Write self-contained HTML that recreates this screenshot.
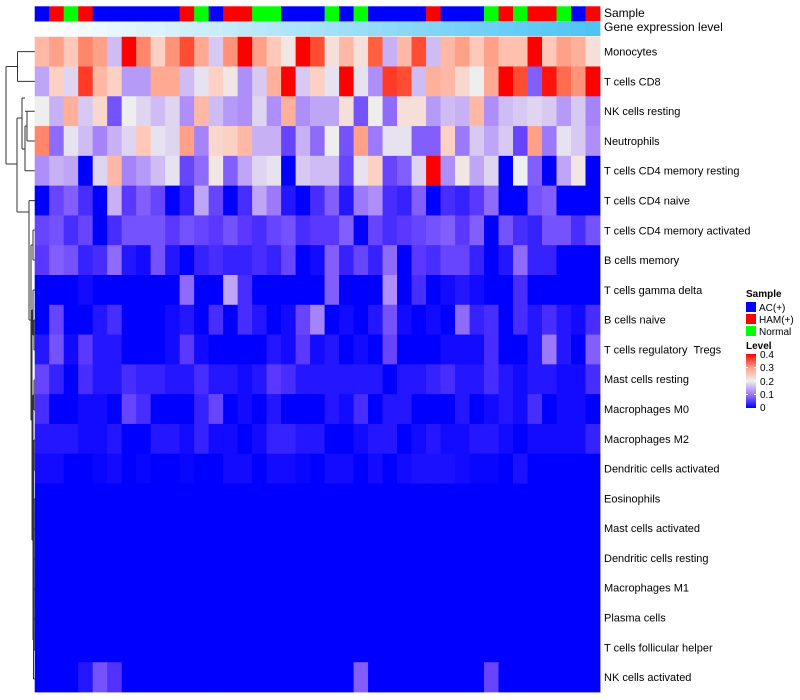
<!DOCTYPE html>
<html><head><meta charset="utf-8">
<style>
html,body{margin:0;padding:0;background:#fff;}
svg{display:block;font-family:"Liberation Sans",sans-serif;}
</style></head>
<body>
<svg id="chart" width="800" height="700" viewBox="0 0 800 700">
  <g id="dendro" stroke="#333" stroke-width="1" fill="none">
    <path d="M6,66.5 V164 M6,66.5 H17.5 M6,164 H17 M17.5,51.6 V81.4 M17.5,51.6 H35 M17.5,81.4 H35"/>
    <path d="M17,118 V212 M17,118 H22 M22,98 V149 M22,98 H25 M22,149 H25 M25,111.2 H35 M25,84 M25,126 V170.8 M25,170.8 H35 M25,126 H27 M27,111.2 V141 M27,111.2 H35 M27,141 H35"/>
    <path d="M17,212 H29 M29,200.6 V320 M29,200.6 H35 M29,320 H31"/>
    <path d="M31,245 V420 M31,245 H33 M33,230 V260 M33,230 H35 M33,260 H35 M31,420 H32"/>
    <path d="M32,310 V540 M32,310 H33 M33,290 V335 M33,290 H35 M33,335 H34 M34,320 V350 M34,320 H35 M34,350 H35 M32,540 H33"/>
    <path d="M33,395 V640 M33,395 H34 M34,380 V410 M34,380 H35 M34,410 H35 M33,640 H33.5"/>
    <path d="M33.5,455 V679 M33.5,455 H34 M34,440 V470 M34,440 H35 M34,470 H35 M33.5,679 H35 M34,499 V650 M34,499 H35 M34,529 H35 M34,559 H35 M34,589 H35 M34,619 H35 M34,650 H35"/>
  </g>
  <g id="sampleBar"></g>
  <g id="geneBar"></g>
  <g id="cells"></g>
  <g id="labels"></g>
  <text x="604" y="17" font-size="12">Sample</text>
  <text x="604" y="31" font-size="12">Gene expression level</text>
  <g font-size="10">
    <text x="746" y="297" font-weight="bold">Sample</text>
    <rect x="746" y="302" width="10" height="10" fill="#0000FF"/>
    <text x="759" y="311">AC(+)</text>
    <rect x="746" y="314" width="10" height="10" fill="#FF0000"/>
    <text x="759" y="323">HAM(+)</text>
    <rect x="746" y="326" width="10" height="10" fill="#00FF00"/>
    <text x="759" y="335">Normal</text>
    <text x="746" y="349" font-weight="bold">Level</text>
    <defs><linearGradient id="lg" x1="0" y1="1" x2="0" y2="0">
      <stop offset="0" stop-color="#0000FF"/><stop offset="0.25" stop-color="#9C78FA"/>
      <stop offset="0.5" stop-color="#EEEEEE"/><stop offset="0.75" stop-color="#FFA088"/>
      <stop offset="1" stop-color="#FF0000"/></linearGradient></defs>
    <rect x="746" y="354" width="10" height="54" fill="url(#lg)"/>
    <g stroke="#fff" stroke-width="1">
      <line x1="746" y1="367.5" x2="748" y2="367.5"/><line x1="754" y1="367.5" x2="756" y2="367.5"/>
      <line x1="746" y1="381" x2="748" y2="381"/><line x1="754" y1="381" x2="756" y2="381"/>
      <line x1="746" y1="394.5" x2="748" y2="394.5"/><line x1="754" y1="394.5" x2="756" y2="394.5"/>
    </g>
    <text x="760" y="358">0.4</text>
    <text x="760" y="371">0.3</text>
    <text x="760" y="385">0.2</text>
    <text x="760" y="398">0.1</text>
    <text x="760" y="411">0</text>
  </g>
</svg>
<script>
const rowNames = ["Monocytes","T cells CD8","NK cells resting","Neutrophils","T cells CD4 memory resting","T cells CD4 naive","T cells CD4 memory activated","B cells memory","T cells gamma delta","B cells naive","T cells regulatory  Tregs","Mast cells resting","Macrophages M0","Macrophages M2","Dendritic cells activated","Eosinophils","Mast cells activated","Dendritic cells resting","Macrophages M1","Plasma cells","T cells follicular helper","NK cells activated"];
const sampleGroups = ["AC","HAM","Normal","HAM","AC","AC","AC","AC","AC","AC","HAM","Normal","AC","HAM","HAM","Normal","Normal","AC","AC","AC","Normal","AC","Normal","AC","AC","AC","AC","HAM","AC","AC","AC","Normal","HAM","Normal","HAM","HAM","Normal","AC","HAM"];
const geneLevel = [1,2,3,4,5,6,7,8,9,10,11,12,13,14,15,16,17,18,19,20,21,22,23,24,25,26,27,28,29,30,31,32,33,34,35,36,37,38,39];
const monocytes = [.27,.30,.25,.32,.30,.16,.40,.32,.24,.31,.36,.29,.17,.31,.40,.30,.25,.21,.40,.36,.22,.27,.22,.35,.15,.27,.36,.16,.27,.30,.25,.30,.26,.26,.40,.25,.30,.28,.22];
const tCD8 = [.14,.24,.18,.37,.27,.24,.13,.13,.29,.29,.16,.19,.24,.21,.12,.17,.28,.40,.17,.24,.19,.40,.19,.12,.37,.36,.16,.28,.27,.23,.20,.29,.40,.36,.08,.39,.34,.31,.40];
const nkResting = [.20,.15,.28,.17,.23,.07,.20,.18,.16,.18,.12,.27,.16,.13,.12,.18,.12,.28,.12,.14,.14,.22,.07,.20,.09,.22,.22,.13,.16,.15,.27,.12,.16,.17,.18,.17,.13,.17,.11];
const neutrophils = [.32,.09,.19,.16,.11,.15,.18,.25,.19,.18,.30,.11,.23,.24,.27,.15,.15,.06,.15,.09,.20,.07,.30,.10,.19,.19,.08,.08,.24,.10,.17,.14,.17,.06,.30,.10,.19,.17,.12];
const cd4MemResting = [.12,.15,.14,0,.18,.27,.11,.13,.16,.19,.06,.09,.21,.08,.14,.18,.19,0,.17,.16,.16,.06,.19,.24,.06,.08,.18,.40,.12,.21,.14,.18,0,.20,.08,0,.14,.21,0];
const cd4Naive = [0,.06,.08,.04,0,.15,.05,.08,.06,0,.03,.14,.06,0,.04,.14,.10,.02,0,.04,.08,.02,.10,.12,.04,.03,.08,0,.04,.03,.05,.09,0,0,.07,.08,0,0,0];
const cd4MemActivated = [.06,.07,.04,.06,0,.04,.07,.07,.07,.05,.07,.06,.05,.07,.05,.04,.06,.07,.04,.05,.05,.08,0,.06,.04,.05,.06,.07,.08,.05,.08,0,.07,.04,.03,.07,.07,.04,.07];
const bMemory = [.05,.08,.07,.03,.04,.09,.02,.01,.07,.02,0,.03,.04,.03,.03,.04,.03,.06,0,.01,.08,.03,.06,.03,.09,0,.05,.04,.06,.06,.03,0,.02,.09,.03,.03,0,0,0];
const gammaDelta = [0,0,0,.01,0,0,0,0,0,0,.09,0,0,.14,.04,0,0,0,0,0,.08,0,0,0,.12,0,.04,0,.01,.02,.01,0,0,.04,0,0,0,0,0];
const bNaive = [0,.06,0,0,.02,.04,0,0,0,.01,.02,0,.04,0,.04,.02,0,.01,.06,.11,0,.01,0,.02,.07,.01,0,.01,0,.09,.03,.04,0,.04,.02,.04,.02,.01,.04];
const tregs = [.02,.07,.01,.05,.02,.02,0,0,0,.01,.05,.01,0,0,0,0,.02,.01,.05,.01,.02,0,.01,0,.06,0,0,0,.01,.01,.01,.04,0,0,.02,.10,.02,0,.08];
const mastResting = [.06,.03,0,.04,.02,.02,.04,.03,.03,.02,.02,.04,.02,.02,.01,.02,.05,.04,.02,.02,.02,.02,.02,.02,0,.02,.02,.03,.04,.02,.02,.04,.02,.01,.02,.02,.01,.01,.04];
const macM0 = [.04,0,0,.01,.01,0,.06,.04,0,0,0,.03,.06,0,.01,0,.02,0,0,0,.02,.01,.04,0,.02,.02,0,0,0,.02,0,.01,.02,.01,.04,0,.01,.01,0];
const macM2 = [.02,.02,.02,.01,.01,.02,0,0,.02,.02,.01,.03,.01,.01,0,.01,.03,.03,.02,.02,0,0,.01,.02,.02,0,.01,.02,.01,.01,.02,.02,.01,0,.01,.01,.01,.01,.03];
const dcActivated = [.01,.01,0,0,.005,.01,0,.005,0,0,.005,0,0,.01,.01,0,.01,.01,.005,0,.01,.01,0,.01,0,.01,.015,.015,.015,.01,.005,.005,0,.015,0,0,0,0,0];
const eosinophils = [0,0,0,0,0,0,0,0,0,0,0,0,0,0,0,0,0,0,0,0,0,0,0,0,0,0,0,0,0,0,0,0,0,0,0,0,0,0,0];
const mastActivated = [0,0,0,0,0,0,0,0,0,0,0,0,0,0,0,0,0,0,0,0,0,0,0,0,0,0,0,0,0,0,0,0,0,0,0,0,0,0,0];
const dcResting = [0,0,0,0,0,0,0,0,0,0,0,0,0,0,0,0,0,0,0,0,0,0,0,0,0,0,0,0,0,0,0,0,0,0,0,0,0,0,0];
const macM1 = [0,0,0,0,0,0,0,0,0,0,0,0,0,0,0,0,0,0,0,0,0,0,0,0,0,0,0,0,0,0,0,0,0,0,0,0,0,0,0];
const plasma = [0,0,0,0,0,0,0,0,0,0,0,0,0,0,0,0,0,0,0,0,0,0,0,0,0,0,0,0,0,0,0,0,0,0,0,0,0,0,0];
const tfh = [0,0,0,0,0,0,0,0,0,0,0,0,0,0,0,0,0,0,0,0,0,0,0,0,0,0,0,0,0,0,0,0,0,0,0,0,0,0,0];
const nkActivated = [0,0,0,.02,.07,.045,0,0,0,0,0,0,0,0,0,0,0,0,0,0,0,0,.08,0,0,0,0,0,0,0,0,.06,0,0,0,0,0,0,0];
const values = [monocytes,tCD8,nkResting,neutrophils,cd4MemResting,cd4Naive,cd4MemActivated,bMemory,gammaDelta,bNaive,tregs,mastResting,macM0,macM2,dcActivated,eosinophils,mastActivated,dcResting,macM1,plasma,tfh,nkActivated];

const NS = "http://www.w3.org/2000/svg";
const X0 = 34.7, X1 = 600, Y0 = 36.7, Y1 = 692;
const nCol = sampleGroups.length, nRow = rowNames.length;
const cw = (X1 - X0) / nCol, rh = (Y1 - Y0) / nRow;
function xPos(i){ return X0 + i * cw; }
function yPos(j){ return Y0 + j * rh; }
const stops = [[0,[0,0,255]],[0.05,[90,56,255]],[0.1,[156,120,250]],[0.15,[200,176,245]],[0.2,[238,238,238]],[0.25,[255,200,184]],[0.3,[255,160,136]],[0.35,[255,96,64]],[0.4,[255,0,0]]];
function colorOf(v){
  v = Math.max(0, Math.min(0.4, v));
  for (let k = 1; k < stops.length; k++){
    if (v <= stops[k][0]){
      const a = stops[k-1], b = stops[k], t = (v - a[0]) / (b[0] - a[0]);
      const c = a[1].map((q, i) => Math.round(q + (b[1][i] - q) * t));
      return `rgb(${c[0]},${c[1]},${c[2]})`;
    }
  }
  return "rgb(255,0,0)";
}
const groupColor = {AC:"#0000FF", HAM:"#FF0000", Normal:"#00FF00"};
function geneColor(g){
  const t = (g - 1) / 38;
  const c = [255 + (77-255)*t, 255 + (196-255)*t, 255 + (245-255)*t].map(Math.round);
  return `rgb(${c[0]},${c[1]},${c[2]})`;
}
const sampleG = document.getElementById("sampleBar");
const geneG = document.getElementById("geneBar");
const cellsG = document.getElementById("cells");
const labelsG = document.getElementById("labels");
for (let i = 0; i < nCol; i++){
  const r = document.createElementNS(NS, "rect");
  r.setAttribute("x", xPos(i)); r.setAttribute("y", 6.3);
  r.setAttribute("width", cw + 0.4); r.setAttribute("height", 15.2);
  r.setAttribute("fill", groupColor[sampleGroups[i]]);
  
  
  sampleG.appendChild(r);
  const g = document.createElementNS(NS, "rect");
  g.setAttribute("x", xPos(i)); g.setAttribute("y", 22);
  g.setAttribute("width", cw + 0.4); g.setAttribute("height", 14);
  g.setAttribute("fill", geneColor(geneLevel[i]));
  
  
  geneG.appendChild(g);
}
for (let j = 0; j < nRow; j++){
  for (let i = 0; i < nCol; i++){
    const r = document.createElementNS(NS, "rect");
    r.setAttribute("x", xPos(i)); r.setAttribute("y", yPos(j));
    r.setAttribute("width", cw + 0.4); r.setAttribute("height", rh + 0.4);
    r.setAttribute("fill", colorOf(values[j][i]));
    
    
    cellsG.appendChild(r);
  }
  const t = document.createElementNS(NS, "text");
  t.setAttribute("x", 604); t.setAttribute("y", yPos(j) + rh/2 + 4);
  t.setAttribute("font-size", "11");
  t.setAttribute("xml:space", "preserve");
  t.style.whiteSpace = "pre";
  t.textContent = rowNames[j];
  
  
  labelsG.appendChild(t);
}
</script>
</body></html>
